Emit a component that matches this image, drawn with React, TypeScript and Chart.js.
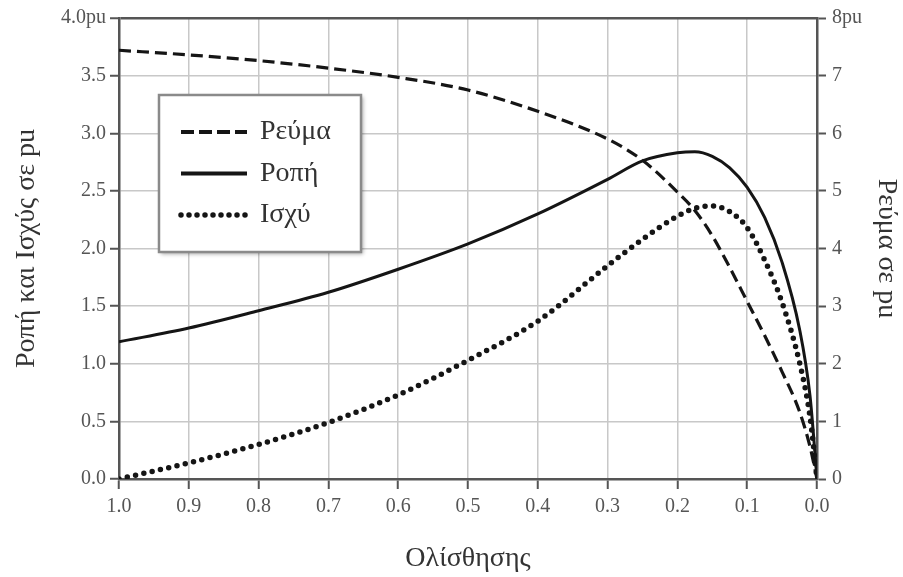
import React, { useEffect, useRef } from 'react';
import { Chart, registerables } from 'chart.js';
Chart.register(...registerables);

// Slip values (x axis, reversed: 1.0 on the left, 0.0 on the right)
const slip = [1.0, 0.9, 0.8, 0.7, 0.6, 0.5, 0.4, 0.3, 0.25, 0.2, 0.175, 0.15, 0.125, 0.1, 0.075, 0.05, 0.025, 0.01, 0.0];
// Current in pu (right axis)
const currentPu = [7.44, 7.36, 7.26, 7.13, 6.97, 6.75, 6.38, 5.9, 5.53, 4.98, 4.66, 4.22, 3.67, 3.08, 2.49, 1.86, 1.17, 0.56, 0];
// Torque in pu (left axis)
const torquePu = [1.19, 1.31, 1.46, 1.62, 1.82, 2.04, 2.3, 2.6, 2.76, 2.83, 2.84, 2.8, 2.7, 2.53, 2.27, 1.88, 1.3, 0.72, 0];
// Power in pu (left axis)
const powerPu = [0, 0.14, 0.3, 0.49, 0.73, 1.03, 1.37, 1.85, 2.08, 2.28, 2.35, 2.37, 2.32, 2.18, 1.9, 1.53, 1.01, 0.54, 0];

const seriesLabels = ['Ρεύμα', 'Ροπή', 'Ισχύ'];
const xTickLabels = ['0.0', '0.1', '0.2', '0.3', '0.4', '0.5', '0.6', '0.7', '0.8', '0.9', '1.0'];
const leftTickLabels = ['0.0', '0.5', '1.0', '1.5', '2.0', '2.5', '3.0', '3.5', '4.0pu'];
const rightTickLabels = ['0', '1', '2', '3', '4', '5', '6', '7', '8pu'];

const xTitle = 'Ολίσθησης';
const leftTitle = 'Ροπή και Ισχύς σε pu';
const rightTitle = 'Ρεύμα σε pu';

const FAMILY = "'Liberation Serif', 'DejaVu Serif', serif";
const GRID = '#c8c8c8';
const AXIS = '#555';

export default function App() {
  const ref = useRef<HTMLCanvasElement>(null);

  useEffect(() => {
    const canvas = ref.current;
    if (!canvas) return;

    const legendPlugin = {
      id: 'boxLegend',
      afterDraw(chart: any) {
        const { ctx, chartArea: a } = chart;
        const bx = a.left + 40;
        const by = a.top + 77;
        const bw = 202;
        const bh = 157;
        ctx.save();
        ctx.shadowColor = 'rgba(0,0,0,0.35)';
        ctx.shadowBlur = 4;
        ctx.shadowOffsetX = 2;
        ctx.shadowOffsetY = 2;
        ctx.fillStyle = '#fff';
        ctx.fillRect(bx, by, bw, bh);
        ctx.shadowColor = 'transparent';
        ctx.shadowBlur = 0;
        ctx.shadowOffsetX = 0;
        ctx.shadowOffsetY = 0;
        ctx.strokeStyle = '#8a8a8a';
        ctx.lineWidth = 2.5;
        ctx.strokeRect(bx, by, bw, bh);
        chart.data.datasets.forEach((ds: any, i: number) => {
          const y = by + 37 + i * 41.5;
          ctx.beginPath();
          ctx.setLineDash(ds.legendDash || ds.borderDash || []);
          ctx.lineCap = ds.borderCapStyle || 'butt';
          ctx.lineWidth = ds.legendWidth || ds.borderWidth;
          ctx.strokeStyle = ds.borderColor;
          ctx.moveTo(bx + 22, y);
          ctx.lineTo(bx + 88, y);
          ctx.stroke();
          ctx.setLineDash([]);
          ctx.fillStyle = '#333';
          ctx.font = `28px ${FAMILY}`;
          ctx.textBaseline = 'middle';
          ctx.textAlign = 'left';
          ctx.fillText(ds.label, bx + 101, y);
        });
        ctx.restore();
      },
    };

    const tickFont = { family: FAMILY, size: 20 };
    const titleFont = { family: FAMILY, size: 28 };

    const chart = new Chart(canvas, {
      type: 'line',
      data: {
        datasets: [
          {
            label: seriesLabels[0],
            data: slip.map((s, i) => ({ x: s, y: currentPu[i] })),
            yAxisID: 'y1',
            borderColor: '#151515',
            borderWidth: 3.2,
            borderDash: [12, 6],
            legendDash: [13, 5],
            legendWidth: 4,
            pointRadius: 0,
            cubicInterpolationMode: 'monotone',
            fill: false,
          } as any,
          {
            label: seriesLabels[1],
            data: slip.map((s, i) => ({ x: s, y: torquePu[i] })),
            yAxisID: 'y',
            borderColor: '#151515',
            borderWidth: 3,
            legendWidth: 4,
            pointRadius: 0,
            cubicInterpolationMode: 'monotone',
            fill: false,
          } as any,
          {
            label: seriesLabels[2],
            data: slip.map((s, i) => ({ x: s, y: powerPu[i] })),
            yAxisID: 'y',
            borderColor: '#151515',
            borderWidth: 5.5,
            borderDash: [0, 8.5],
            legendDash: [0, 8],
            borderCapStyle: 'round',
            pointRadius: 0,
            cubicInterpolationMode: 'monotone',
            fill: false,
          } as any,
        ],
      },
      options: {
        animation: false,
        responsive: true,
        maintainAspectRatio: false,
        layout: { padding: { top: 18, left: 0, right: 0, bottom: 0 } },
        plugins: {
          legend: { display: false },
          tooltip: { enabled: false },
        },
        scales: {
          x: {
            type: 'linear',
            reverse: true,
            min: 0,
            max: 1,
            afterFit: (s: any) => {
              s.height = 98;
            },
            ticks: {
              stepSize: 0.1,
              autoSkip: false,
              maxRotation: 0,
              padding: 6,
              color: AXIS,
              font: tickFont,
              callback: (v: any) => xTickLabels[Math.round(Number(v) * 10)],
            },
            grid: { color: GRID, lineWidth: 1.5, tickLength: 10, tickColor: AXIS, tickWidth: 2 },
            border: { color: AXIS, width: 2.5 },
            title: { display: true, text: xTitle, color: '#333', font: titleFont, padding: { top: 0, bottom: 2 } },
          },
          y: {
            type: 'linear',
            position: 'left',
            min: 0,
            max: 4,
            afterFit: (s: any) => {
              s.width = 119;
            },
            ticks: {
              stepSize: 0.5,
              padding: 4,
              color: AXIS,
              font: tickFont,
              callback: (v: any) => leftTickLabels[Math.round(Number(v) * 2)],
            },
            grid: {
              color: (c: any) => (c.tick && c.tick.value === 4 ? AXIS : GRID),
              lineWidth: (c: any) => (c.tick && c.tick.value === 4 ? 2.5 : 1.5),
              tickLength: 9,
              tickColor: AXIS,
              tickWidth: 2,
            },
            border: { color: AXIS, width: 2.5 },
            title: { display: true, text: leftTitle, color: '#333', font: titleFont, padding: { top: 10, bottom: 0 } },
          },
          y1: {
            type: 'linear',
            position: 'right',
            min: 0,
            max: 8,
            afterFit: (s: any) => {
              s.width = 86;
            },
            ticks: {
              stepSize: 1,
              padding: 6,
              color: AXIS,
              font: tickFont,
              callback: (v: any) => rightTickLabels[Math.round(Number(v))],
            },
            grid: { drawOnChartArea: false, tickLength: 9, tickColor: AXIS, tickWidth: 2 },
            border: { color: AXIS, width: 2.5 },
            title: { display: true, text: rightTitle, color: '#333', font: titleFont, padding: { top: 0, bottom: 4 } },
          },
        },
      } as any,
      plugins: [legendPlugin],
    });

    return () => chart.destroy();
  }, []);

  return (
    <div style={{ position: 'fixed', left: 0, top: 0, width: 903, height: 577, background: '#fff' }}>
      <canvas ref={ref} />
    </div>
  );
}
